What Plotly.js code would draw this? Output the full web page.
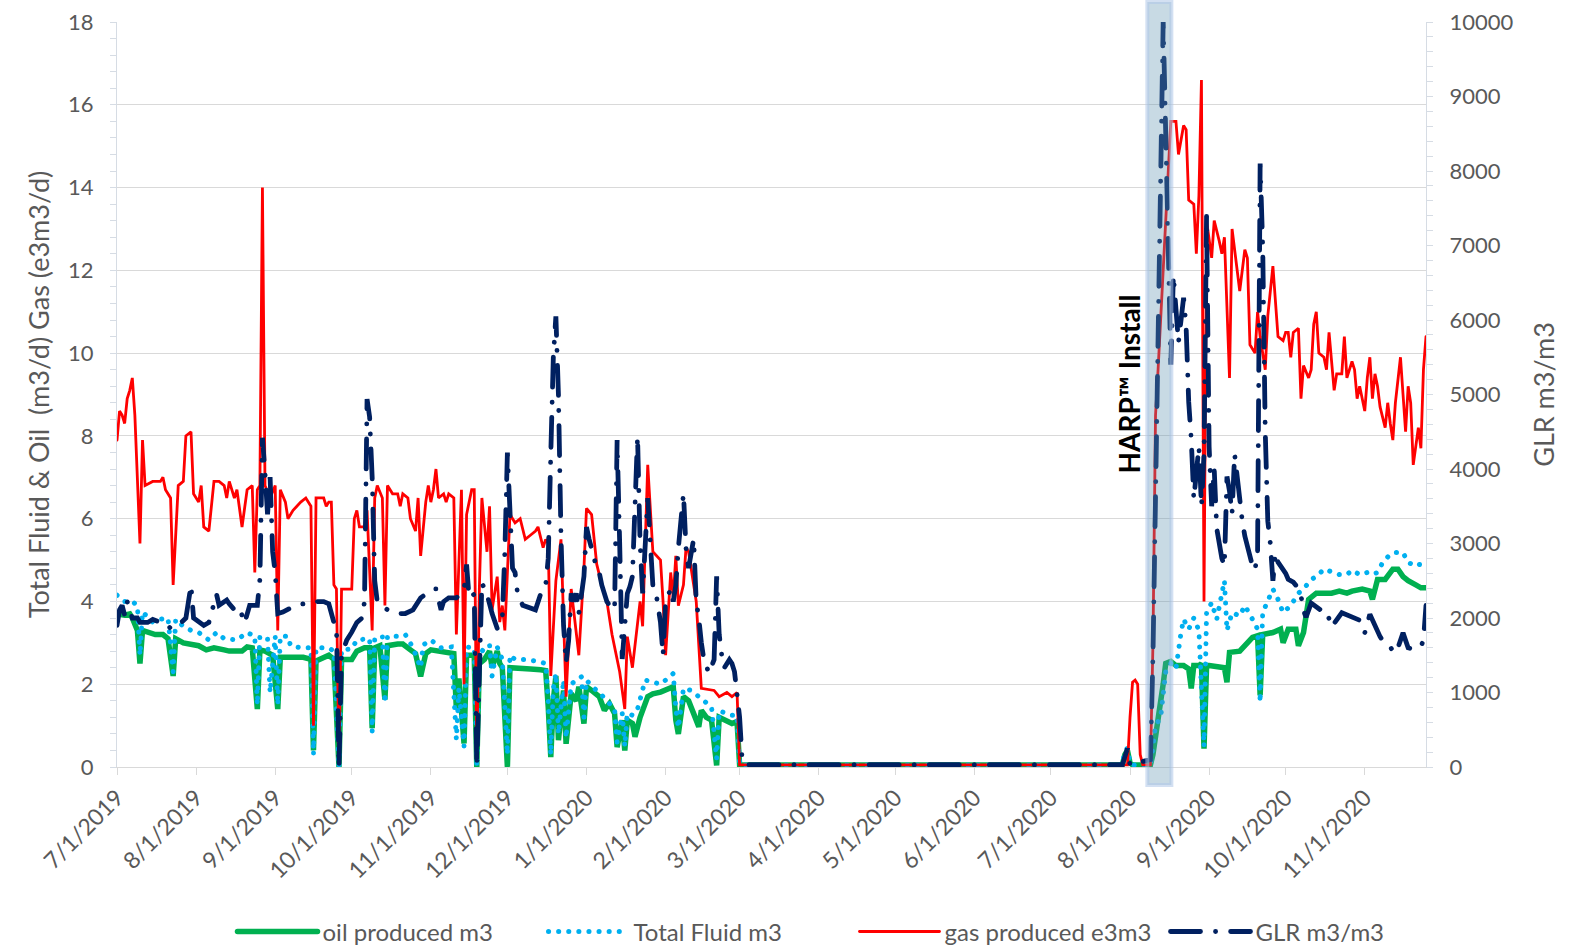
<!DOCTYPE html>
<html><head><meta charset="utf-8">
<script src="https://cdn.plot.ly/plotly-3.0.1.min.js"></script>
<style>
html,body{margin:0;padding:0;background:#fff;}
#chart{width:1571px;height:948px;}
path.js-line{stroke-linecap:round;}
</style></head><body><div id="chart"></div><script>
// Each reading is [day since 2019-07-01, value]
const START_DATE = '2019-07-01';

const oilReadings = [[0,3.7],[3,3.67],[5,3.7],[6,3.6],[8,3.3],[9,2.5],[10,3.3],[12,3.25],[15,3.2],[18,3.2],[20,3.1],[22,2.2],[23,3.1],[26,3.0],[29,2.97],[32,2.93],[35,2.83],[38,2.88],[42,2.83],[44,2.8],[49,2.8],[51,2.9],[53,2.88],[55,1.4],[56,2.83],[58,2.8],[61,2.7],[63,1.4],[64,2.65],[68,2.65],[73,2.65],[76,2.6],[77,0.4],[78,2.56],[83,2.7],[85,2.6],[87,0.0],[88,2.6],[92,2.6],[94,2.8],[97,2.88],[99,2.88],[100,0.94],[101,2.88],[103,2.93],[105,1.63],[106,2.93],[110,2.97],[112,2.97],[115,2.83],[117,2.74],[119,2.19],[121,2.74],[123,2.83],[126,2.8],[129,2.8],[132,2.74],[133,1.4],[134,2.14],[136,0.57],[137,2.7],[140,2.7],[141,0.0],[142,2.5],[144,2.6],[146,2.8],[147,2.4],[149,2.8],[150,2.5],[151,2.4],[153,0.0],[154,2.4],[156,2.4],[162,2.37],[166,2.35],[168,2.33],[169,1.45],[170,0.24],[171,1.6],[172,2.2],[173,0.65],[175,1.85],[176,0.56],[178,1.77],[180,1.6],[181,1.94],[183,1.05],[184,1.94],[186,1.85],[189,1.7],[191,1.37],[193,1.53],[195,1.29],[196,0.48],[198,1.13],[199,0.4],[200,1.13],[202,1.05],[203,0.73],[205,1.2],[208,1.7],[210,1.77],[213,1.81],[215,1.85],[218,1.94],[219,1.13],[220,0.8],[222,1.7],[224,1.6],[226,1.29],[228,0.97],[229,1.37],[231,1.2],[233,1.13],[235,0.04],[236,1.2],[239,1.13],[241,1.05],[243,1.1],[244,0.05],[394,0.05],[395,0.3],[396,0.4],[397,0.1],[398,0.05],[405,0.05],[406,0.3],[407,0.8],[408,1.16],[410,2.0],[411,2.5],[413,2.55],[415,2.45],[418,2.45],[420,2.37],[421,1.9],[422,2.45],[424,2.45],[425,2.5],[426,0.44],[427,2.45],[428,2.45],[432,2.4],[434,2.4],[435,2.05],[436,2.77],[440,2.8],[442,2.93],[445,3.13],[447,3.17],[448,1.73],[449,3.2],[453,3.25],[456,3.33],[457,3.0],[459,3.33],[462,3.33],[463,2.93],[465,3.25],[467,4.05],[470,4.2],[474,4.2],[476,4.2],[479,4.25],[482,4.2],[484,4.25],[488,4.3],[491,4.25],[492,4.05],[494,4.53],[497,4.53],[500,4.78],[502,4.78],[504,4.6],[506,4.5],[509,4.4],[511,4.33],[513,4.33]];

const fluidReadings = [[0,4.15],[3,4.0],[6,4.0],[8,3.9],[9,2.7],[10,3.75],[14,3.5],[17,3.57],[20,3.6],[22,2.3],[23,3.57],[26,3.4],[29,3.3],[32,3.25],[36,3.07],[39,3.25],[42,3.1],[47,3.07],[51,3.25],[54,3.16],[55,1.5],[56,3.16],[58,3.1],[59,3.1],[60,1.8],[61,2.4],[62,3.16],[63,1.5],[64,3.16],[67,3.16],[68,2.93],[72,2.88],[76,2.88],[77,0.3],[78,2.88],[83,2.88],[85,2.8],[87,0.0],[88,2.83],[92,2.85],[94,3.07],[99,3.1],[100,0.85],[101,3.1],[104,3.16],[105,1.55],[106,3.16],[110,3.16],[113,3.2],[116,2.88],[119,2.4],[120,2.95],[123,3.07],[127,2.88],[131,2.9],[133,0.67],[134,1.9],[136,0.5],[137,2.9],[140,2.88],[141,0.0],[142,2.7],[144,2.88],[146,2.95],[147,2.2],[149,2.9],[151,2.6],[153,0.3],[154,2.7],[156,2.6],[160,2.6],[165,2.55],[168,2.5],[169,1.6],[170,0.3],[171,1.9],[172,2.26],[173,0.8],[175,2.1],[176,0.7],[178,2.0],[180,2.1],[182,2.18],[183,1.2],[184,2.1],[186,1.95],[189,1.8],[192,1.6],[195,1.4],[196,0.6],[198,1.3],[199,0.5],[200,1.3],[202,1.25],[204,1.4],[207,2.1],[210,2.05],[213,2.0],[216,2.15],[218,2.26],[219,1.4],[220,0.95],[222,1.9],[225,1.85],[228,1.7],[230,1.6],[233,1.45],[235,0.2],[236,1.35],[239,1.3],[241,1.25],[243,1.25],[244,0.05],[394,0.05],[395,0.4],[396,0.45],[397,0.1],[398,0.05],[405,0.05],[406,0.5],[407,1.0],[409,1.2],[411,2.3],[413,2.5],[415,2.37],[417,3.25],[418,3.57],[420,3.33],[422,3.6],[424,3.3],[426,0.5],[427,3.73],[429,3.97],[431,3.57],[434,4.5],[435,3.3],[437,3.73],[440,3.65],[442,3.9],[445,3.57],[447,3.33],[448,1.56],[449,3.73],[453,4.3],[455,4.05],[457,3.73],[460,3.9],[463,4.2],[465,4.3],[468,4.53],[470,4.6],[473,4.78],[476,4.7],[479,4.65],[482,4.65],[484,4.75],[487,4.65],[490,4.7],[492,4.65],[494,4.7],[496,4.94],[499,5.14],[501,5.18],[504,5.18],[506,4.94],[509,4.86],[510,4.9],[513,4.85]];

const gasReadings = [[0,7.9],[1,8.6],[2,8.5],[3,8.3],[4,8.9],[5,9.1],[6,9.4],[7,8.5],[9,5.4],[10,7.9],[11,6.8],[14,6.9],[17,6.9],[18,7.0],[19,6.7],[21,6.5],[22,4.4],[24,6.8],[26,6.9],[27,8.0],[29,8.1],[30,6.6],[32,6.4],[33,6.8],[34,5.8],[36,5.7],[38,6.9],[40,6.9],[42,6.8],[43,6.5],[44,6.9],[46,6.5],[47,6.7],[49,5.8],[51,6.7],[53,6.8],[54,4.7],[55,6.7],[56,6.8],[57,14.0],[58,6.8],[60,6.5],[62,6.8],[63,3.3],[64,6.7],[66,6.4],[67,6.0],[69,6.2],[72,6.4],[74,6.5],[76,6.3],[77,1.0],[78,6.5],[81,6.5],[82,6.3],[83,6.4],[84,6.4],[85,4.4],[86,4.3],[87,0.1],[88,4.3],[92,4.3],[93,6.0],[94,6.2],[95,5.8],[97,5.8],[98,6.2],[100,3.3],[101,6.5],[102,6.8],[104,6.5],[105,3.9],[106,6.8],[108,6.6],[110,6.6],[111,6.3],[112,6.6],[114,6.5],[115,6.0],[117,5.7],[118,6.5],[119,5.1],[121,6.4],[122,6.8],[123,6.4],[124,6.7],[125,7.2],[126,6.5],[128,6.6],[129,6.4],[130,6.6],[132,6.5],[133,3.2],[134,4.9],[135,6.7],[136,2.0],[137,6.1],[139,6.7],[140,6.7],[141,0.2],[142,4.3],[143,6.5],[145,5.2],[146,6.3],[147,3.8],[149,4.6],[150,3.5],[151,3.9],[152,3.3],[154,6.1],[156,5.9],[158,6.0],[160,5.5],[162,5.6],[164,5.7],[165,5.8],[167,5.3],[168,5.5],[169,5.4],[170,2.2],[172,4.5],[174,5.5],[176,1.7],[178,4.3],[181,2.7],[183,4.8],[184,6.25],[186,6.1],[188,4.9],[190,4.4],[192,4.0],[194,3.2],[197,2.3],[199,1.4],[200,3.15],[202,2.4],[205,4.0],[206,3.4],[207,5.6],[208,7.3],[210,5.2],[213,5.0],[214,4.0],[215,2.7],[217,4.7],[218,4.1],[219,5.1],[220,3.9],[222,4.4],[223,5.3],[224,5.2],[227,4.0],[229,1.9],[234,1.85],[236,1.7],[239,1.8],[241,1.7],[243,1.8],[244,0.05],[394,0.05],[396,0.05],[397,1.2],[398,2.05],[399,2.1],[400,2.0],[401,0.3],[402,0.05],[405,0.05],[406,3.0],[407,8.5],[408,9.6],[413,15.6],[415,15.6],[416,14.8],[418,15.5],[419,15.4],[420,13.7],[422,13.6],[423,12.4],[424,13.8],[425,16.6],[426,4.0],[427,13.2],[429,12.3],[430,13.2],[432,12.7],[433,12.4],[434,12.8],[436,9.4],[437,13.0],[439,11.9],[440,11.5],[442,12.5],[443,12.3],[444,10.2],[446,10.0],[447,11.0],[448,10.4],[450,9.6],[451,10.9],[453,12.1],[455,10.4],[457,10.3],[458,10.5],[459,10.5],[460,9.9],[461,10.5],[463,10.6],[464,8.9],[465,9.7],[467,9.4],[468,9.6],[469,10.7],[470,11.0],[471,10.0],[473,9.9],[474,9.6],[475,10.5],[477,9.1],[478,9.5],[480,9.5],[481,10.4],[482,9.4],[484,9.8],[485,9.6],[486,8.9],[487,9.2],[489,8.6],[490,9.4],[491,9.9],[492,8.9],[493,9.5],[494,9.2],[495,8.7],[497,8.2],[498,8.8],[499,8.3],[500,7.9],[501,8.8],[503,9.9],[504,9.0],[505,8.1],[506,9.2],[507,8.8],[508,7.3],[510,8.2],[511,7.7],[512,9.6],[513,10.4]];

const glrReadings = [[0,1900],[1,2110],[2,2170],[3,2040],[4,2220],[6,2000],[8,2000],[9,1940],[12,1940],[14,1980],[17,1940],[19,1930],[21,1860],[24,1900],[27,2000],[28,2220],[29,2440],[30,2000],[32,1940],[34,1900],[36,1940],[39,2320],[40,2170],[43,2240],[44,2190],[46,2110],[48,2140],[50,1930],[52,2170],[55,2170],[56,2520],[57,4420],[58,3950],[59,3390],[60,3890],[61,2890],[62,2610],[63,2060],[65,2080],[68,2140],[70,2170],[73,2190],[76,2190],[78,2220],[81,2220],[83,2190],[85,1940],[86,1900],[87,0],[88,1500],[90,1700],[92,1810],[94,1940],[96,2000],[97,2220],[98,4940],[99,4700],[100,3890],[101,2500],[102,2220],[104,2170],[106,2110],[109,2060],[113,2060],[116,2110],[119,2270],[121,2320],[124,2390],[125,2390],[127,2110],[128,2220],[130,2270],[133,2270],[136,2370],[137,2720],[138,2270],[140,2320],[141,0],[143,2470],[145,2320],[147,2060],[149,1860],[151,2000],[152,2890],[153,4220],[154,3220],[155,2670],[156,2610],[157,2320],[159,2170],[162,2140],[164,2110],[166,2320],[167,2420],[168,2440],[169,2800],[170,4200],[171,5500],[172,6050],[173,5000],[174,3100],[175,1900],[176,1400],[177,1700],[178,2330],[179,2220],[180,2330],[181,2060],[183,2560],[184,3220],[185,3060],[187,2780],[188,2670],[189,2610],[190,2440],[192,2220],[193,2170],[195,2110],[196,4390],[197,3000],[198,1450],[200,2330],[201,2420],[202,2560],[204,4440],[205,3000],[206,2330],[208,3610],[209,3110],[210,2440],[211,2390],[213,1940],[214,1500],[215,2220],[217,2390],[218,2220],[219,2440],[220,2940],[222,3670],[223,2940],[224,2670],[226,3060],[227,2220],[228,2000],[229,1670],[230,1440],[232,1260],[234,1440],[235,2560],[236,1780],[237,1500],[238,1330],[240,1440],[241,1390],[242,1280],[243,940],[244,670],[245,90],[246,30],[394,30],[395,150],[396,250],[397,30],[405,100],[406,1500],[407,3500],[408,5500],[409,8000],[410,10000],[411,8500],[412,6800],[413,5400],[414,6600],[415,6200],[416,5700],[418,6300],[419,5900],[420,4900],[421,4400],[422,3600],[423,4000],[424,4300],[425,3500],[426,4200],[427,7400],[428,4300],[429,3500],[430,4000],[431,3200],[432,3000],[433,2800],[434,2700],[435,3900],[436,3700],[437,3400],[438,4200],[439,3850],[440,3500],[441,3300],[442,3100],[443,2950],[444,2820],[445,2700],[446,2640],[447,2900],[448,8100],[449,7000],[450,4500],[451,3300],[452,3000],[453,2500],[454,2870],[455,2750],[456,2700],[457,2650],[458,2600],[459,2520],[461,2480],[463,2400],[464,2300],[465,2100],[466,2010],[468,2200],[470,2150],[472,2100],[474,2100],[475,2000],[476,1880],[480,2070],[483,2030],[485,2010],[487,1970],[488,1880],[489,1800],[491,2050],[493,1880],[495,1750],[497,1650],[499,1610],[500,1560],[501,1530],[502,1600],[504,1800],[505,1700],[506,1600],[508,1580],[510,1600],[511,1620],[512,1700],[513,2170]];

const seriesNames = ['oil produced m3','Total Fluid m3','gas produced e3m3','GLR m3/m3'];
const leftTitle = 'Total Fluid & Oil\u00a0\u00a0(m3/d) Gas (e3m3/d)';
const rightTitle = 'GLR m3/m3';
const annotationText = '<b>HARP\u2122 Install</b>';
const lastDay = 513;

function toDate(day){
  const t = Date.UTC(2019,6,1) + day*86400000;
  return new Date(t).toISOString().slice(0,16).replace('T',' ');
}
const xs = r => r.map(p => toDate(p[0]));
const ys = r => r.map(p => p[1]);

const FONT = 'Lato, "Liberation Sans", sans-serif';
const GREY = '#595959';
const AXC = '#D6DCE4';

const traces = [
  {x: xs(oilReadings), y: ys(oilReadings), name: seriesNames[0], mode:'lines', line:{color:'#00B050', width:5.5}},
  {x: xs(fluidReadings), y: ys(fluidReadings), name: seriesNames[1], mode:'lines', line:{color:'#00B0F0', width:5, dash:'0.1px,10px'}},
  {x: xs(gasReadings), y: ys(gasReadings), name: seriesNames[2], mode:'lines', line:{color:'#FF0000', width:2.8}},
  {x: xs(glrReadings), y: ys(glrReadings), name: seriesNames[3], mode:'lines', yaxis:'y2', line:{color:'#002060', width:4.8, dash:'30px,15px,0.1px,15px'}}
];

const layout = {
  width:1571, height:948,
  margin:{l:117, r:145, t:22, b:181, pad:0, autoexpand:false},
  paper_bgcolor:'#ffffff', plot_bgcolor:'#ffffff',
  font:{family:FONT, color:GREY, size:22},
  showlegend:true,
  legend:{orientation:'h', xref:'container', yref:'container', x:0.148, xanchor:'left', y:0.017, yanchor:'middle',
    font:{size:24, color:GREY, family:FONT}, entrywidth:216, entrywidthmode:'pixels', itemwidth:80,
    bgcolor:'rgba(0,0,0,0)', tracegroupgap:0},
  xaxis:{type:'date', range:[toDate(0), toDate(lastDay)], dtick:'M1', tick0:START_DATE,
    tickformat:'%-m/%-d/%Y', tickangle:-45, ticks:'outside', ticklen:7, tickcolor:'#D9D9D9',
    showline:true, linecolor:'#D9D9D9', linewidth:1, showgrid:false, zeroline:false,
    tickfont:{size:23, color:GREY, family:FONT}},
  yaxis:{range:[0,18], dtick:2, showgrid:true, gridcolor:'#D9D9D9', gridwidth:1, zeroline:false,
    showline:true, linecolor:AXC, ticks:'outside', ticklen:6, tickcolor:AXC, ticklabelstandoff:12,
    minor:{dtick:0.4, ticks:'outside', ticklen:6, tickcolor:AXC, showgrid:false},
    tickfont:{size:22, color:GREY, family:FONT},
    title:{text:leftTitle, font:{size:27, color:GREY, family:FONT}, standoff:10}},
  yaxis2:{overlaying:'y', side:'right', range:[0,10000], dtick:1000, tickformat:'d', showgrid:false, zeroline:false,
    showline:true, linecolor:AXC, ticks:'outside', ticklen:6, tickcolor:AXC, ticklabelstandoff:12,
    minor:{dtick:200, ticks:'outside', ticklen:6, tickcolor:AXC, showgrid:false},
    tickfont:{size:22, color:GREY, family:FONT},
    title:{text:rightTitle, font:{size:27, color:GREY, family:FONT}, standoff:22}},
  shapes:[{type:'rect', xref:'x', yref:'paper', x0:'2020-08-07 19:00', x1:'2020-08-17 05:00', y0:-0.024, y1:1.027,
    fillcolor:'rgba(98,149,178,0.35)', line:{color:'rgba(175,198,232,0.55)', width:4}, layer:'above'}],
  annotations:[{xref:'x', yref:'paper', x:'2020-07-31 19:00', y:0.514, text:annotationText, textangle:-90,
    showarrow:false, font:{size:28, color:'#000000', family:FONT}}]
};

Plotly.newPlot('chart', traces, layout, {staticPlot:true, displayModeBar:false});
</script></body></html>
